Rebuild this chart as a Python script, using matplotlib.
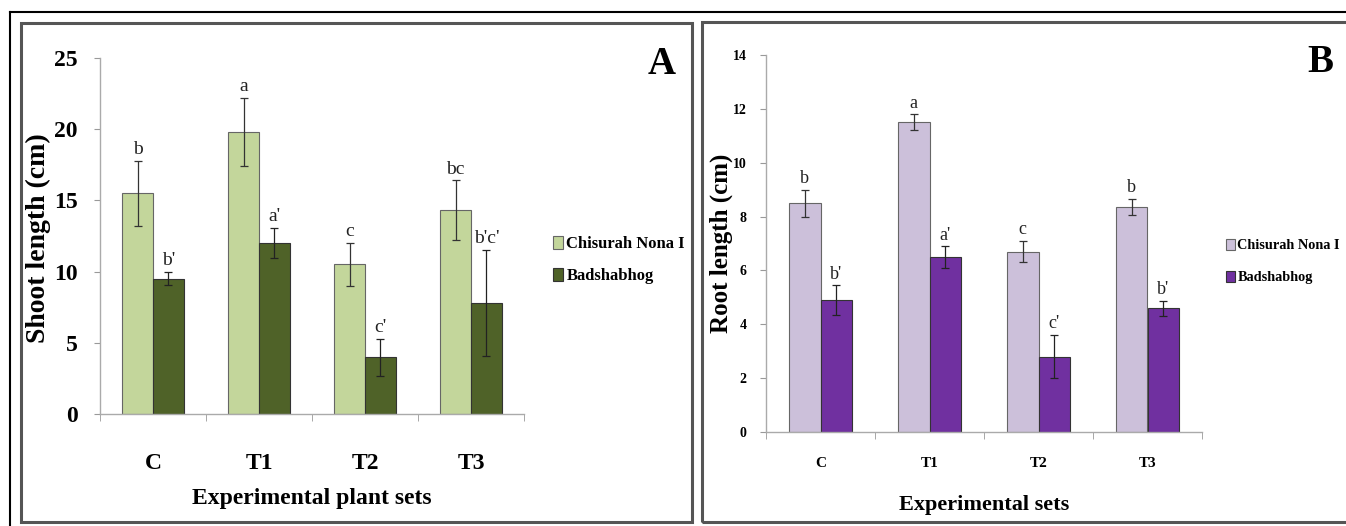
import matplotlib
matplotlib.use('Agg')
import matplotlib.pyplot as plt
import numpy as np
from matplotlib.patches import Rectangle
from matplotlib.lines import Line2D

plt.rcParams['font.family'] = ['Liberation Serif', 'DejaVu Serif']

sets = ['C', 'T1', 'T2', 'T3']
varieties = ['Chisurah Nona I', 'Badshabhog']

# Panel A: shoot length (cm)
shoot_chis = [15.5, 19.8, 10.5, 14.3]
shoot_chis_err = [2.3, 2.4, 1.5, 2.1]
shoot_bad = [9.5, 12.0, 4.0, 7.8]
shoot_bad_err = [0.45, 1.05, 1.3, 3.7]
shoot_chis_lab = ['b', 'a', 'c', 'bc']
shoot_bad_lab = ["b'", "a'", "c'", "b'c'"]

# Panel B: root length (cm)
root_chis = [8.5, 11.5, 6.7, 8.35]
root_chis_err = [0.5, 0.3, 0.4, 0.3]
root_bad = [4.9, 6.5, 2.8, 4.6]
root_bad_err = [0.55, 0.4, 0.8, 0.28]
root_chis_lab = ['b', 'a', 'c', 'b']
root_bad_lab = ["b'", "a'", "c'", "b'"]

W, H = 1346, 526
fig = plt.figure(figsize=(W / 100, H / 100), dpi=100)


def fx(px):
    return px / W


def fy(py):
    return 1 - py / H


# frames
fig.add_artist(Line2D([fx(10), fx(10)], [fy(12), 0], color='black', lw=1.5))
fig.add_artist(Line2D([fx(10), 1], [fy(12), fy(12)], color='black', lw=1.5))
fig.add_artist(Rectangle((fx(21), fy(522)), fx(692 - 21), fy(23) - fy(522),
                         fill=False, ec='#555555', lw=2.2))
fig.add_artist(Rectangle((fx(702), fy(522)), fx(1360 - 702), fy(22) - fy(522),
                         fill=False, ec='#555555', lw=2.2))


def draw_panel(ax, chis, chis_err, bad, bad_err, chis_lab, bad_lab,
               c1, c2, ymax, ystep, ytick_fs, xtick_fs, lab_fs, off, ypad, xpad):
    x = np.arange(len(sets))
    w = 0.29
    ax.bar(x - w / 2, chis, w, color=c1, edgecolor='#666666', lw=0.8,
           yerr=chis_err, error_kw=dict(ecolor='#333333', elinewidth=0.9, capsize=3, capthick=0.9),
           label=varieties[0], zorder=2)
    ax.bar(x + w / 2, bad, w, color=c2, edgecolor='#333333', lw=0.8,
           yerr=bad_err, error_kw=dict(ecolor='#222222', elinewidth=0.9, capsize=3, capthick=0.9),
           label=varieties[1], zorder=2)
    for i in range(len(sets)):
        ax.text(x[i] - w / 2, chis[i] + chis_err[i] + off, chis_lab[i],
                ha='center', va='bottom', fontsize=lab_fs, color='#222222')
        ax.text(x[i] + w / 2, bad[i] + bad_err[i] + off, bad_lab[i],
                ha='center', va='bottom', fontsize=lab_fs, color='#222222')
    ax.set_xlim(-0.5, len(sets) - 0.5)
    ax.set_ylim(0, ymax)
    ax.set_yticks(np.arange(0, ymax + 0.1, ystep))
    ax.set_xticks(x)
    ax.set_xticklabels(sets)
    ax.set_xticks(np.arange(-0.5, len(sets)), minor=True)
    ax.tick_params(axis='x', which='major', length=0, pad=xpad, labelsize=xtick_fs)
    ax.tick_params(axis='x', which='minor', length=5, color='#999999', direction='out')
    ax.tick_params(axis='y', length=4, color='#999999', labelsize=ytick_fs, pad=ypad)
    for lbl in ax.get_xticklabels() + ax.get_yticklabels():
        lbl.set_fontweight('bold')
    for s in ['top', 'right']:
        ax.spines[s].set_visible(False)
    for s in ['left', 'bottom']:
        ax.spines[s].set_color('#aaaaaa')
        ax.spines[s].set_linewidth(1.0)


axA = fig.add_axes([fx(100), fy(414), fx(524 - 100), fy(58) - fy(414)])
draw_panel(axA, shoot_chis, shoot_chis_err, shoot_bad, shoot_bad_err,
           shoot_chis_lab, shoot_bad_lab, '#c3d69b', '#4f6228', 25, 5, 17, 17, 14, 0.2, 12, 28)
fig.text(fx(38), fy(238), 'Shoot length (cm)', fontsize=20, fontweight='bold',
         rotation=90, ha='center', va='center')
axA.set_xlabel('Experimental plant sets', fontsize=17, fontweight='bold', labelpad=10)
fig.text(fx(676), fy(64), 'A', fontsize=28, fontweight='bold', ha='right', va='center')
axA.legend(loc='upper left', bbox_to_anchor=(fx(553), fy(236)), bbox_transform=fig.transFigure,
           frameon=False, prop=dict(size=12, weight='bold'), handlelength=0.6,
           handleheight=0.8, handletextpad=0.2, labelspacing=0.95,
           borderpad=0, borderaxespad=0)

axB = fig.add_axes([fx(766), fy(432), fx(1202 - 766), fy(55) - fy(432)])
draw_panel(axB, root_chis, root_chis_err, root_bad, root_bad_err,
           root_chis_lab, root_bad_lab, '#ccc0da', '#7030a0', 14, 2, 10, 11, 13, 0.1, 10, 18)
fig.text(fx(721), fy(243), 'Root length (cm)', fontsize=18, fontweight='bold',
         rotation=90, ha='center', va='center')
axB.set_xlabel('Experimental sets', fontsize=16, fontweight='bold', labelpad=18)
fig.text(fx(1333), fy(62), 'B', fontsize=28, fontweight='bold', ha='right', va='center')
axB.legend(loc='upper left', bbox_to_anchor=(fx(1226), fy(239)), bbox_transform=fig.transFigure,
           frameon=False, prop=dict(size=10.3, weight='bold'), handlelength=0.6,
           handleheight=0.8, handletextpad=0.2, labelspacing=1.3,
           borderpad=0, borderaxespad=0)

fig.savefig('out.png', dpi=100)
